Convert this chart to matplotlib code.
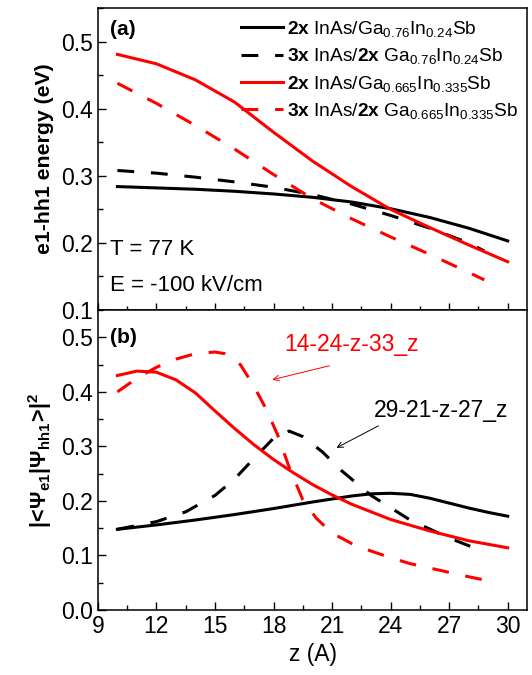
import matplotlib
matplotlib.use("Agg")
import matplotlib.pyplot as plt
from matplotlib.ticker import MultipleLocator
import numpy as np

plt.rcParams['font.family'] = ['Liberation Sans', 'DejaVu Sans']
plt.rcParams['mathtext.fontset'] = 'custom'
plt.rcParams['mathtext.rm'] = 'Liberation Sans'
plt.rcParams['mathtext.bf'] = 'Liberation Sans:bold'
plt.rcParams['mathtext.it'] = 'Liberation Sans:italic'

# ---- Data: panel (a) e1-hh1 energy (eV) ----
z_full = [10, 12, 14, 16, 18, 20, 22, 24, 26, 28, 30]
z_dash = [10, 12, 14, 16, 18, 20, 22, 24, 26, 28, 28.8]
e_2x_076 = [0.284, 0.282, 0.280, 0.277, 0.273, 0.268, 0.261, 0.251, 0.238, 0.222, 0.203]
e_3x_076 = [0.308, 0.304, 0.298, 0.291, 0.283, 0.272, 0.258, 0.241, 0.222, 0.200, 0.188]
e_2x_0665 = [0.481, 0.467, 0.443, 0.410, 0.365, 0.322, 0.284, 0.250, 0.223, 0.197, 0.172]
e_3x_0665 = [0.438, 0.408, 0.375, 0.340, 0.302, 0.266, 0.236, 0.209, 0.183, 0.156, 0.145]

# ---- Data: panel (b) overlap |<psi_e1|psi_hh1>|^2 ----
z_b_solid_black = [10, 12, 14, 16, 18, 20, 22, 23, 24, 25, 26, 27, 28, 29, 30]
ov_2x_076 = [0.148, 0.156, 0.165, 0.175, 0.186, 0.198, 0.209, 0.213, 0.214, 0.212, 0.205, 0.196, 0.187, 0.179, 0.172]
z_b_dash_black = [10, 12, 13.5, 15, 16, 17, 18, 18.8, 19.5, 20.5, 21.5, 23, 25, 27, 28.7]
ov_3x_076 = [0.148, 0.162, 0.180, 0.210, 0.240, 0.278, 0.315, 0.328, 0.318, 0.290, 0.255, 0.210, 0.165, 0.132, 0.108]
z_b_solid_red = [10, 11, 12, 13, 14, 15, 16, 17, 18, 19, 20, 21, 22, 24, 26, 28, 30]
ov_2x_0665 = [0.430, 0.438, 0.436, 0.422, 0.398, 0.365, 0.333, 0.303, 0.276, 0.252, 0.230, 0.211, 0.194, 0.166, 0.145, 0.127, 0.114]
z_b_dash_red = [10, 11, 12, 13, 14, 15, 15.5, 16.3, 17, 17.6, 18.2, 18.8, 19.5, 20.2, 21, 22, 23, 24, 25, 26, 27, 28, 28.8]
ov_3x_0665 = [0.400, 0.425, 0.445, 0.460, 0.470, 0.473, 0.470, 0.450, 0.410, 0.370, 0.322, 0.262, 0.202, 0.168, 0.141, 0.122, 0.108, 0.096, 0.085, 0.077, 0.069, 0.061, 0.055]

labels = [r"$\mathbf{2x}$ InAs/Ga$_{0.76}$In$_{0.24}$Sb",
          r"$\mathbf{3x}$ InAs/$\mathbf{2x}$ Ga$_{0.76}$In$_{0.24}$Sb",
          r"$\mathbf{2x}$ InAs/Ga$_{0.665}$In$_{0.335}$Sb",
          r"$\mathbf{3x}$ InAs/$\mathbf{2x}$ Ga$_{0.665}$In$_{0.335}$Sb"]

fig = plt.figure(figsize=(5.32, 6.75), dpi=100)
ax1 = fig.add_axes([0.184, 0.5407, 0.807, 0.4473])
ax2 = fig.add_axes([0.184, 0.0963, 0.807, 0.4444], sharex=ax1)

lw = 2.2
dash = (5.5, 5.5)
ax1.plot(z_full, e_2x_076, color='black', lw=lw, label=labels[0])
ax1.plot(z_dash, e_3x_076, color='black', lw=lw, ls=(0, dash), label=labels[1])
ax1.plot(z_full, e_2x_0665, color='red', lw=lw, label=labels[2])
ax1.plot(z_dash, e_3x_0665, color='red', lw=lw, ls=(0, dash), label=labels[3])

ax2.plot(z_b_solid_black, ov_2x_076, color='black', lw=lw)
ax2.plot(z_b_dash_black, ov_3x_076, color='black', lw=lw, ls=(0, dash))
ax2.plot(z_b_solid_red, ov_2x_0665, color='red', lw=lw)
ax2.plot(z_b_dash_red, ov_3x_0665, color='red', lw=lw, ls=(0, dash))

for ax in (ax1, ax2):
    ax.set_xlim(9, 31)
    ax.xaxis.set_major_locator(MultipleLocator(3))
    ax.xaxis.set_minor_locator(MultipleLocator(1.5))
    ax.yaxis.set_major_locator(MultipleLocator(0.1))
    ax.yaxis.set_minor_locator(MultipleLocator(0.05))
    ax.tick_params(which='both', direction='in', top=False, right=False, labelsize=16.5)
    ax.tick_params(which='major', length=6, width=1)
    ax.tick_params(which='minor', length=3.5, width=1)
    for s in ax.spines.values():
        s.set_linewidth(1.1)

ax1.tick_params(axis='x', which='major', direction='inout', length=10)
ax1.tick_params(axis='x', which='minor', direction='inout', length=6)

ax1.set_ylim(0.1, 0.55)
ax2.set_ylim(0.0, 0.55)
ax1.tick_params(labelbottom=False)

ax1.set_ylabel("e1-hh1 energy (eV)", fontsize=15.3, fontweight='bold', labelpad=5)
ax2.set_ylabel(r"$\mathbf{|\!<\!\Psi_{e1}|\Psi_{hh1}\!>\!|^2}$", fontsize=15.5, labelpad=5)
ax2.set_xlabel("z (A)", fontsize=16.5, labelpad=4)

ax1.text(9.6, 0.518, "(a)", fontsize=15, fontweight='bold', va='center')
ax2.text(9.6, 0.50, "(b)", fontsize=15, fontweight='bold', va='center')
ax1.text(9.6, 0.19, "T = 77 K", fontsize=16, va='center')
ax1.text(9.6, 0.137, "E = -100 kV/cm", fontsize=16, va='center')

leg = ax1.legend(loc='upper right', frameon=False, fontsize=13.8, handlelength=2.2,
                 borderaxespad=0.1, labelspacing=0.38, handletextpad=0.2,
                 bbox_to_anchor=(1.0, 0.995))

ax2.annotate("", xy=(17.8, 0.421), xytext=(21.0, 0.449),
             arrowprops=dict(arrowstyle='->', color='red', lw=0.7))
ax2.text(22.0, 0.487, "14-24-z-33_z", color='red', fontsize=16.5, ha='center', va='center')
ax2.annotate("", xy=(21.1, 0.295), xytext=(23.5, 0.34),
             arrowprops=dict(arrowstyle='->', color='black', lw=0.7))
ax2.text(26.6, 0.366, "29-21-z-27_z", color='black', fontsize=16.5, ha='center', va='center')

fig.savefig("out.png", dpi=100)
